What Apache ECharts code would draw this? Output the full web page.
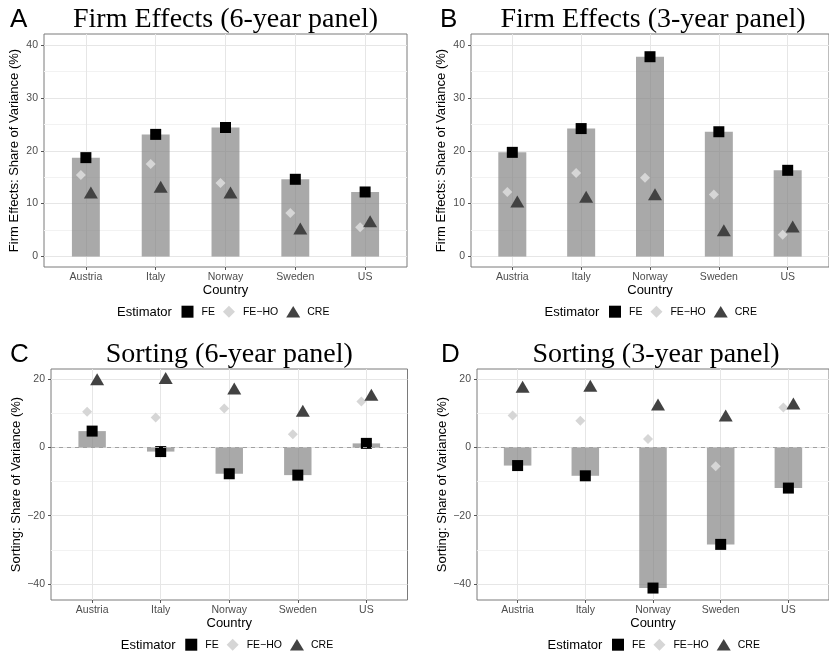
<!DOCTYPE html>
<html>
<head>
<meta charset="utf-8">
<script src="https://cdn.jsdelivr.net/npm/echarts@6/dist/echarts.min.js"></script>
<style>
  html, body { margin: 0; padding: 0; background: #fff; }
  #chart { width: 829px; height: 655px; }
</style>
</head>
<body>
<div id="chart"></div>
<script>
// countries on the x axis
const countries = ['Austria', 'Italy', 'Norway', 'Sweden', 'US']

// A: firm effects, 6-year panel
const firm6FE = [18.7, 23.1, 24.4, 14.6, 12.2]
const firm6FEHO = [15.4, 17.5, 13.9, 8.2, 5.5]
const firm6CRE = [11.7, 12.8, 11.7, 4.9, 6.3]
// B: firm effects, 3-year panel
const firm3FE = [19.7, 24.2, 37.8, 23.6, 16.3]
const firm3FEHO = [12.2, 15.8, 14.9, 11.7, 4.1]
const firm3CRE = [10.0, 10.9, 11.4, 4.6, 5.3]
// C: sorting, 6-year panel
const sort6FE = [4.8, -1.2, -7.7, -8.1, 1.2]
const sort6FEHO = [10.5, 8.8, 11.4, 3.9, 13.5]
const sort6CRE = [19.4, 19.8, 16.7, 10.2, 14.9]
// D: sorting, 3-year panel
const sort3FE = [-5.3, -8.3, -41.2, -28.4, -11.9]
const sort3FEHO = [9.4, 7.8, 2.5, -5.5, 11.7]
const sort3CRE = [17.2, 17.5, 12.0, 8.8, 12.3]

// tick labels
const firmTicks = [0, 10, 20, 30, 40]
const sortTicks = [-40, -20, 0, 20]

const panels = [
  { letter: 'A', title: 'Firm Effects (6-year panel)', yName: 'Firm Effects: Share of Variance (%)',
    fe: firm6FE, feho: firm6FEHO, cre: firm6CRE, ticks: firmTicks, step: 10, ymin: -2, ymax: 42.1,
    left: 44, right: 407, top: 34, bottom: 267, nameGap: 23, letterX: 10, zero: false },
  { letter: 'B', title: 'Firm Effects (3-year panel)', yName: 'Firm Effects: Share of Variance (%)',
    fe: firm3FE, feho: firm3FEHO, cre: firm3CRE, ticks: firmTicks, step: 10, ymin: -2, ymax: 42.1,
    left: 471, right: 835, top: 34, bottom: 267, nameGap: 23, letterX: 440, zero: false },
  { letter: 'C', title: 'Sorting (6-year panel)', yName: 'Sorting: Share of Variance (%)',
    fe: sort6FE, feho: sort6FEHO, cre: sort6CRE, ticks: sortTicks, step: 20, ymin: -44.7, ymax: 23,
    left: 51, right: 407.5, top: 369, bottom: 600, nameGap: 28, letterX: 10, zero: true },
  { letter: 'D', title: 'Sorting (3-year panel)', yName: 'Sorting: Share of Variance (%)',
    fe: sort3FE, feho: sort3FEHO, cre: sort3CRE, ticks: sortTicks, step: 20, ymin: -44.7, ymax: 23,
    left: 477, right: 835, top: 369, bottom: 600, nameGap: 28, letterX: 441, zero: true }
]

const sans = 'Liberation Sans, Arial, sans-serif'
const serif = 'Liberation Serif, Times New Roman, serif'
const gridColor = '#e6e6e6'
const minorColor = '#f2f2f2'
const tickColor = '#555'
const labelColor = '#4d4d4d'

const icons = {
  FE: 'path://M0,0H11V11H0Z',
  FEHO: 'path://M5,0L10,5L5,10L0,5Z',
  CRE: 'path://M8,0L16,13L0,13Z'
}

const chart = echarts.init(document.getElementById('chart'), null, { renderer: 'canvas' })

const grid = []
const xAxis = []
const yAxis = []
const series = []
const title = []
const legend = []

panels.forEach((p, k) => {
  const w = p.right - p.left
  const h = p.bottom - p.top
  const cx = (p.left + p.right) / 2
  const legendY = p.bottom + 44.7

  grid.push({
    left: p.left, top: p.top, width: w, height: h,
    show: true, backgroundColor: '#fff', borderColor: '#7a7a7a', borderWidth: 1
  })

  xAxis.push({
    gridIndex: k,
    type: 'value',
    min: -0.6,
    max: 4.6,
    minInterval: 1,
    maxInterval: 1,
    axisLine: { show: false, onZero: false },
    axisTick: { show: true, length: 3, lineStyle: { color: tickColor }, customValues: [0, 1, 2, 3, 4] },
    axisLabel: {
      customValues: [0, 1, 2, 3, 4],
      formatter: v => countries[v] || '',
      color: labelColor, fontSize: 10.5, fontFamily: sans, margin: 5
    },
    splitLine: { show: true, lineStyle: { color: gridColor, width: 1 } },
    name: 'Country',
    nameLocation: 'middle',
    nameGap: 16,
    nameTextStyle: { color: '#000', fontSize: 13, fontFamily: sans, verticalAlign: 'top' }
  })

  yAxis.push({
    gridIndex: k,
    type: 'value',
    min: p.ymin,
    max: p.ymax,
    minInterval: p.step,
    maxInterval: p.step,
    axisLine: { show: false, onZero: false },
    axisTick: { show: true, length: 3, lineStyle: { color: tickColor }, customValues: p.ticks },
    axisLabel: {
      customValues: p.ticks,
      formatter: v => String(v).replace('-', '\u2212'),
      color: labelColor, fontSize: 10.5, fontFamily: sans, margin: 6
    },
    splitLine: { show: true, lineStyle: { color: gridColor, width: 1 } },
    minorTick: { show: false, splitNumber: 2 },
    minorSplitLine: { show: true, lineStyle: { color: minorColor, width: 1 } },
    name: p.yName,
    nameLocation: 'middle',
    nameGap: p.nameGap,
    nameTextStyle: { color: '#000', fontSize: 13, fontFamily: sans }
  })

  const bar = {
    type: 'bar',
    xAxisIndex: k,
    yAxisIndex: k,
    data: p.fe.map((v, i) => [i, v]),
    barWidth: 0.4 * w / 5.2,
    itemStyle: { color: 'rgba(128,128,128,0.68)' },
    silent: true,
    animation: false
  }
  if (p.zero) {
    bar.markLine = {
      silent: true,
      symbol: 'none',
      label: { show: false },
      lineStyle: { type: [4, 4], color: '#a0a0a0', width: 1 },
      data: [{ yAxis: 0 }]
    }
  }
  series.push(bar)

  series.push({
    type: 'scatter', name: 'FE', xAxisIndex: k, yAxisIndex: k,
    data: p.fe.map((v, i) => [i, v]),
    symbol: 'rect', symbolSize: 11,
    itemStyle: { color: '#000', opacity: 1 }, animation: false
  })
  series.push({
    type: 'scatter', name: 'FE\u2212HO', xAxisIndex: k, yAxisIndex: k,
    data: p.feho.map((v, i) => [i, v]),
    symbol: 'diamond', symbolSize: 10, symbolOffset: [-5, 0],
    itemStyle: { color: '#d6d6d6', opacity: 1 }, animation: false
  })
  series.push({
    type: 'scatter', name: 'CRE', xAxisIndex: k, yAxisIndex: k,
    data: p.cre.map((v, i) => [i, v]),
    symbol: 'triangle', symbolSize: [14, 12], symbolOffset: [5, -2],
    itemStyle: { color: '#424242', opacity: 1 }, animation: false
  })

  // panel letter and title
  title.push({
    text: p.letter, left: p.letterX, top: p.top - 27, padding: 0,
    textStyle: { fontFamily: sans, fontSize: 26, fontWeight: 'normal', color: '#000' }
  })
  title.push({
    text: p.title, left: cx, top: p.top - 28, padding: 0, textAlign: 'center',
    textStyle: { fontFamily: serif, fontSize: 28, fontWeight: 'normal', color: '#000' }
  })
  title.push({
    text: 'Estimator', left: cx - 108.5, top: legendY - 6, padding: 0,
    textStyle: { fontFamily: sans, fontSize: 13, fontWeight: 'normal', color: '#000' }
  })

  legend.push({
    left: cx - 44, top: legendY - 6, padding: 0,
    orient: 'horizontal',
    itemWidth: 14, itemHeight: 12, itemGap: 8,
    selectedMode: false,
    textStyle: { fontFamily: sans, fontSize: 10.5, color: '#000', padding: [0, 0, 0, 2] },
    data: [
      { name: 'FE', icon: icons.FE, itemStyle: { color: '#000', opacity: 1 } },
      { name: 'FE\u2212HO', icon: icons.FEHO, itemStyle: { color: '#d6d6d6', opacity: 1 } },
      { name: 'CRE', icon: icons.CRE, itemStyle: { color: '#424242', opacity: 1 } }
    ]
  })
})

chart.setOption({
  backgroundColor: '#fff',
  animation: false,
  title,
  legend,
  grid,
  xAxis,
  yAxis,
  series
})
</script>
</body>
</html>
